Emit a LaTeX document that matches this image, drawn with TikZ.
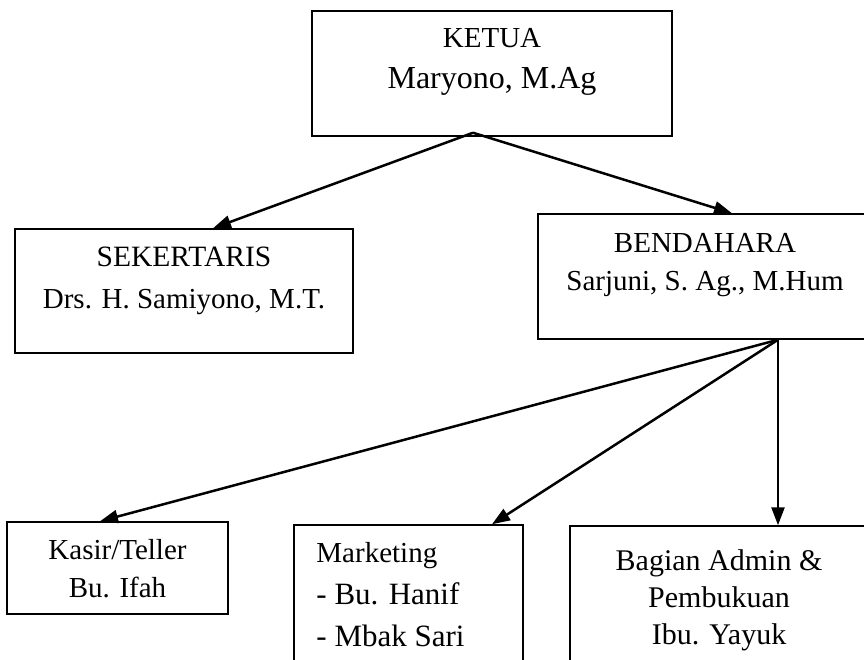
\documentclass[tikz,border=0pt]{standalone}
\usepackage{fontspec}
\setmainfont{Liberation Serif}
\usetikzlibrary{positioning,arrows.meta,calc}
\tikzset{
  org-box/.style={draw=black,line width=1.5pt,rectangle,inner sep=0pt},
  org-text/.style={align=center,inner sep=0pt,anchor=base,
    font=\fontsize{29}{41}\selectfont},
  org-list/.style={align=left,inner sep=0pt,anchor=base west,
    font=\fontsize{29}{42}\selectfont},
  org-arrow/.style={-{Triangle[length=18pt,width=13pt]},line width=2.5pt,draw=black},
}

\begin{document}
\begin{tikzpicture}[x=1pt,y=-1pt]
  \useasboundingbox (0,0) rectangle (864,660);
  % kotak
  \node[org-box,minimum width=360pt,minimum height=125pt] (ketua)  at (492,73.5)  {};
  \node[org-box,minimum width=338pt,minimum height=124pt] (sek)    at (184,291)   {};
  \node[org-box,minimum width=334pt,minimum height=125pt] (bend)   at (705,276.5) {};
  \node[org-box,minimum width=221pt,minimum height=92pt]  (kasir)  at (117.5,568) {};
  \node[org-box,minimum width=229pt,minimum height=165pt] (mkt)    at (408.5,607.5) {};
  \node[org-box,minimum width=298pt,minimum height=164pt] (bagian) at (719,608)   {};
  % teks (base = baris terakhir)
  \node[org-text] (ketua-txt) at ($(ketua.north)+(0,78)$)
    {KETUA\\{\fontsize{32}{41}\selectfont Maryono, M.Ag}};
  \node[org-text,font=\fontsize{29.5}{42}\selectfont] (sek-txt) at ($(sek.north)+(0,80)$)
    {SEKERTARIS\\{\fontsize{29}{42}\selectfont Drs. H. Samiyono, M.T.}};
  \node[org-text,font=\fontsize{29}{38}\selectfont] (bend-txt) at ($(bend.north)+(0,77)$)
    {BENDAHARA\\{\fontsize{29}{38}\selectfont Sarjuni, S. Ag., M.Hum}};
  \node[org-text,font=\fontsize{29}{38}\selectfont] (kasir-txt) at ($(kasir.north)+(0,76)$)
    {Kasir/Teller\\Bu. Ifah};
  \node[org-list] (mkt-txt) at ($(mkt.north west)+(23,122)$)
    {Marketing\\{\fontsize{31}{42}\selectfont - Bu. Hanif}\\{\fontsize{31}{42}\selectfont - Mbak Sari}};
  \node[org-text,font=\fontsize{30}{37}\selectfont] (bagian-txt) at ($(bagian.north)+(0,119)$)
    {Bagian Admin \&\\Pembukuan\\Ibu. Yayuk};
  % panah
  \coordinate (ketua-out) at ($(ketua.south)+(-19,-4)$);
  \coordinate (bend-out)  at ($(bend.south)+(73,0)$);
  \draw[org-arrow] (ketua-out) -- ($(sek.north)+(29,0)$);
  \draw[org-arrow] (ketua-out) -- ($(bend.north)+(27,0)$);
  \draw[org-arrow] (bend-out) -- ($(kasir.north)+(-17.5,0)$);
  \draw[org-arrow] (bend-out) -- ($(mkt.north)+(83.5,0)$);
  \draw[org-arrow] (bend-out) -- (bend-out |- bagian.north);
\end{tikzpicture}
\end{document}
